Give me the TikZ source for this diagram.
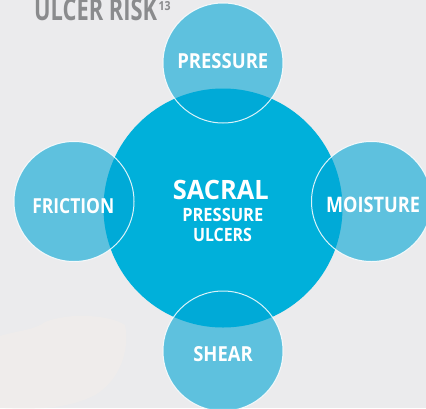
\documentclass[tikz,border=0pt]{standalone}
\usepackage{fontspec}
\setmainfont{Open Sans}
\usepackage{graphicx}
\definecolor{bgc}{RGB}{235,235,237}
\definecolor{bigc}{RGB}{0,176,218}
\definecolor{smallc}{RGB}{0,166,213}
\definecolor{titlec}{RGB}{138,139,141}
\definecolor{blobc}{RGB}{243,238,234}
\newcommand{\fitlbl}[3]{\resizebox{#1pt}{#2pt}{\bfseries #3}}
\begin{document}
\begin{tikzpicture}[x=1pt,y=-1pt,
  bigcircle/.style={circle,fill=bigc,minimum size=239pt,inner sep=0pt},
  smallcircle/.style={circle,fill=smallc,fill opacity=0.6,draw=white,draw opacity=0.85,line width=1pt,minimum size=120pt,inner sep=0pt},
  lbl/.style={text=white,inner sep=0pt,anchor=center},
  ttl/.style={text=titlec,inner sep=0pt}]
\useasboundingbox (0,0) rectangle (426,408);
\clip (0,0) rectangle (426,408);
\fill[bgc] (0,0) rectangle (426,408);
% faint background shape
\fill[blobc,opacity=0.5] (0,336) .. controls (20,330) and (35,330) .. (45,322)
  .. controls (70,312) and (110,315) .. (125,325)
  .. controls (130,350) and (120,380) .. (95,395)
  .. controls (70,408) and (40,410) .. (0,408) -- cycle;
% circles
\node[bigcircle] (sacral) at (223,208) {};
\node[smallcircle] (pressure) at (223,63) {};
\node[smallcircle] (friction) at (74,201.5) {};
\node[smallcircle] (moisture) at (371.5,201.5) {};
\node[smallcircle] (shear) at (223,351) {};
% labels
\node[lbl] (lpressure) at (222.8,60.8) {\fitlbl{91}{15}{PRESSURE}};
\node[lbl] (lfriction) at (73.3,205.8) {\fitlbl{82}{15}{FRICTION}};
\node[lbl] (lmoisture) at (373,204.7) {\fitlbl{94}{15.5}{MOISTURE}};
\node[lbl] (lshear) at (223,354.2) {\fitlbl{59.4}{15}{SHEAR}};
\node[lbl] (lsacral) at (220.8,190.3) {\fitlbl{96}{19.3}{SACRAL}};
\node[lbl] (lsp) at (222.8,215) {\fitlbl{81}{13.3}{PRESSURE}};
\node[lbl] (lulcers) at (222.5,235) {\fitlbl{59}{13.3}{ULCERS}};
% title
\node[ttl,anchor=base west] (title) at (34,20) {\fitlbl{123}{22}{ULCER RISK}};
\node[ttl,anchor=north west] (sup) at (158.5,1.5) {\fitlbl{12}{9}{13}};
\end{tikzpicture}
\end{document}
